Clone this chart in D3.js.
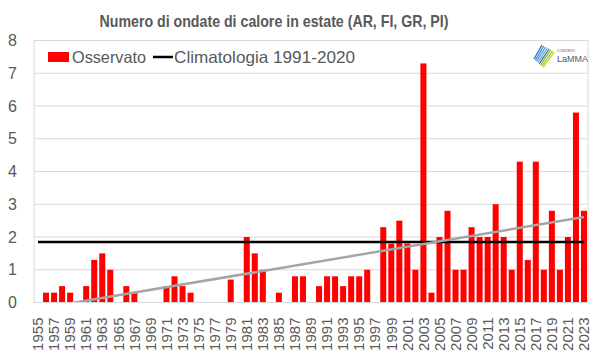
<!DOCTYPE html>
<html>
<head>
<meta charset="utf-8">
<script src="https://cdn.jsdelivr.net/npm/d3@7"></script>
<style>
  html, body { margin: 0; padding: 0; background: #fff; }
  svg { display: block; }
  text { font-family: "Liberation Sans", Arial, sans-serif; fill: #595959; }
</style>
</head>
<body>
<svg id="chart" width="600" height="360"></svg>
<script>
// ---- DATA ----
const years = d3.range(1955, 2024);
const observed = [
  0, 0.3, 0.3, 0.5, 0.3, 0, 0.5, 1.3, 1.5, 1.0,   // 1955-1964
  0, 0.5, 0.3, 0, 0, 0, 0.5, 0.8, 0.5, 0.3,       // 1965-1974
  0, 0, 0, 0, 0.7, 0, 2.0, 1.5, 1.0, 0,           // 1975-1984
  0.3, 0, 0.8, 0.8, 0, 0.5, 0.8, 0.8, 0.5, 0.8,   // 1985-1994
  0.8, 1.0, 0, 2.3, 1.8, 2.5, 1.8, 1.0, 7.3, 0.3, // 1995-2004
  2.0, 2.8, 1.0, 1.0, 2.3, 2.0, 2.0, 3.0, 2.0, 1.0, // 2005-2014
  4.3, 1.3, 4.3, 1.0, 2.8, 1.0, 2.0, 5.8, 2.8     // 2015-2023
];
const climatology = 1.85;
const trendYears = [1955, 2023];
const trendValues = [-0.19, 2.61];
const yTicks = [0, 1, 2, 3, 4, 5, 6, 7, 8];
const xTickLabels = years.filter(y => y % 2 === 1);
const titleText = "Numero di ondate di calore in estate (AR, FI, GR, PI)";
const legendLabels = ["Osservato", "Climatologia 1991-2020"];

// ---- LAYOUT ----
const svg = d3.select("#chart");
const L = 34, R = 588, T = 40.5, B = 302.5;

const x = d3.scaleBand().domain(years).range([L, R]).paddingInner(0.25).paddingOuter(0.125);
const y = d3.scaleLinear().domain([0, 8]).range([B, T]);
const xc = d => x(d) + x.bandwidth() / 2;

// gridlines
svg.append("g").selectAll("line").data(yTicks.slice(1)).join("line")
  .attr("x1", L).attr("x2", R)
  .attr("y1", d => y(d)).attr("y2", d => y(d))
  .attr("stroke", "#d9d9d9").attr("stroke-width", 1);

// plot frame
svg.append("rect").attr("x", L).attr("y", T).attr("width", R - L).attr("height", B - T)
  .attr("fill", "none").attr("stroke", "#d9d9d9").attr("stroke-width", 1);

// bars
svg.append("g").selectAll("rect").data(years.map((yr, i) => ({yr, v: observed[i]})).filter(d => d.v > 0))
  .join("rect")
  .attr("x", d => x(d.yr)).attr("width", x.bandwidth())
  .attr("y", d => y(d.v)).attr("height", d => y(0) - y(d.v))
  .attr("fill", "#ff0000");

// climatology line
svg.append("line")
  .attr("x1", xc(years[0])).attr("x2", xc(years[years.length - 1]))
  .attr("y1", y(climatology)).attr("y2", y(climatology))
  .attr("stroke", "#000").attr("stroke-width", 2.5);

// trend line (clipped to plot)
svg.append("clipPath").attr("id", "clip").append("rect")
  .attr("x", L).attr("y", T).attr("width", R - L).attr("height", B - T);
svg.append("path")
  .attr("clip-path", "url(#clip)")
  .attr("d", d3.line().x(d => xc(d[0])).y(d => y(d[1]))(trendYears.map((yr, i) => [yr, trendValues[i]])))
  .attr("stroke", "#a5a5a5").attr("stroke-width", 2.5).attr("fill", "none");

// bottom axis line
svg.append("line").attr("x1", L).attr("x2", R).attr("y1", B).attr("y2", B)
  .attr("stroke", "#d9d9d9").attr("stroke-width", 1);

// y axis labels
const yAxis = d3.axisLeft(y).tickValues(yTicks).tickSize(0).tickPadding(0).tickFormat(d3.format("d"));
const gy = svg.append("g").attr("transform", `translate(${L - 17},0)`).call(yAxis);
gy.select(".domain").remove();
gy.selectAll("text").style("font-size", "16px").attr("fill", "#595959")
  .style("font-family", "Liberation Sans, Arial, sans-serif");

// x axis labels
const xAxis = d3.axisBottom(x).tickValues(xTickLabels).tickSize(0).tickPadding(0);
const gx = svg.append("g").attr("transform", `translate(0,${B})`).call(xAxis);
gx.select(".domain").remove();
gx.selectAll("text")
  .style("font-size", "15px").attr("fill", "#595959")
  .style("font-family", "Liberation Sans, Arial, sans-serif")
  .attr("transform", "rotate(-90)")
  .attr("x", -15).attr("y", 0).attr("dy", "0.35em")
  .attr("text-anchor", "end");

// title
svg.append("text").attr("x", 274).attr("y", 27).attr("text-anchor", "middle")
  .style("font-size", "16.5px").style("font-weight", "bold")
  .attr("textLength", 349).attr("lengthAdjust", "spacingAndGlyphs")
  .text(titleText);

// legend
svg.append("rect").attr("x", 48).attr("y", 52).attr("width", 21).attr("height", 10).attr("fill", "#ff0000");
svg.append("text").attr("x", 72).attr("y", 62.5).style("font-size", "16.5px")
  .attr("textLength", 74).attr("lengthAdjust", "spacingAndGlyphs").text(legendLabels[0]);
svg.append("line").attr("x1", 153).attr("x2", 173).attr("y1", 57).attr("y2", 57)
  .attr("stroke", "#000").attr("stroke-width", 2.5);
svg.append("text").attr("x", 174).attr("y", 62.5).style("font-size", "16.5px")
  .attr("textLength", 181).attr("lengthAdjust", "spacingAndGlyphs").text(legendLabels[1]);

// logo
const logo = svg.append("g").attr("transform", "translate(533,45)");
const stripeColors = ["#2b6cb0", "#3d8fd6", "#4aa3df", "#6bb8d8", "#5f6b8a", "#7cc24a", "#a6cf3a", "#c8d62b"];
stripeColors.forEach((c, i) => {
  const o = i * 2.2;
  logo.append("line")
    .attr("x1", 1 + o * 0.6).attr("y1", 14 + o * 0.55)
    .attr("x2", 9 + o * 0.8).attr("y2", 0 + o * 0.45)
    .attr("stroke", c).attr("stroke-width", 1.3);
});
logo.append("text").attr("x", 24).attr("y", 7).style("font-size", "3px").attr("fill", "#777").text("CONSORZIO");
logo.append("text").attr("x", 24).attr("y", 17).style("font-size", "9px").attr("fill", "#555").text("LaMMA");
</script>
</body>
</html>
